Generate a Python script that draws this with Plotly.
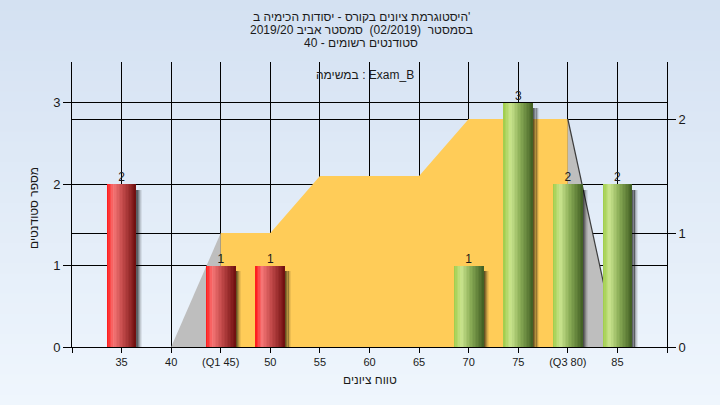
import plotly.graph_objects as go

# ---------------- data ----------------
scores = [35, 40, 45, 50, 55, 60, 65, 70, 75, 80, 85]
counts = [2, 0, 1, 1, 0, 0, 0, 1, 3, 2, 2]
tick_vals = [30, 35, 40, 45, 50, 55, 60, 65, 70, 75, 80, 85, 90]
tick_text = ["", "35", "40", "(Q1 45)", "50", "55", "60", "65", "70", "75", "(Q3 80)", "85", ""]
dist_x = [40, 45, 50, 55, 65, 70, 80, 85]
dist_y = [0, 1, 1, 1.5, 1.5, 2, 2, 0]
q1, q3 = 45, 80
pass_mark = 55

title_lines = ["היסטוגרמת ציונים בקורס - יסודות הכימיה ב'",
               "בסמסטר  (02/2019)  סמסטר אביב 2019/20",
               "סטודנטים רשומים - 40"]
legend_text = "במשימה : Exam_B"
x_title = "טווח ציונים"
y_title = "מספר סטודנטים"

# ---------------- layout constants ----------------
W, H = 720, 405
ML, MR, MT, MB = 72, 53, 62, 58
PW, PH = W - ML - MR, H - MT - MB
FONT = "Liberation Sans, DejaVu Sans, Arial, sans-serif"
TXT = "#1a1a1a"


def px_x(px):
    return (px - ML) / PW


def px_y(py):
    return 1 - (py - MT) / PH


def lerp_stops(stops, t):
    for (t0, c0), (t1, c1) in zip(stops[:-1], stops[1:]):
        if t0 <= t <= t1:
            f = (t - t0) / (t1 - t0) if t1 > t0 else 0
            return "rgb(%d,%d,%d)" % tuple(round(a + (b - a) * f) for a, b in zip(c0, c1))
    c = stops[-1][1]
    return "rgb(%d,%d,%d)" % c


red_stops = [(0, (255, 20, 20)), (0.22, (246, 118, 118)), (0.5, (200, 78, 78)), (1, (110, 14, 14))]
green_stops = [(0, (158, 204, 72)), (0.25, (202, 229, 142)), (0.55, (140, 174, 88)), (1, (64, 94, 34))]

bx = [s for s, c in zip(scores, counts) if c > 0]
by = [c for c in counts if c > 0]
is_pass = [s >= pass_mark for s in bx]

fig = go.Figure()

# ---------------- distribution area (main y axis, right side) ----------------
seg_lo = [(x, y) for x, y in zip(dist_x, dist_y) if x <= q1]
seg_mid = [(x, y) for x, y in zip(dist_x, dist_y) if q1 <= x <= q3]
seg_hi = [(x, y) for x, y in zip(dist_x, dist_y) if x >= q3]

fig.add_trace(go.Scatter(x=[p[0] for p in seg_lo], y=[p[1] for p in seg_lo], mode="lines",
                         fill="tozeroy", fillcolor="#bebebe", line=dict(width=0, color="#bebebe"),
                         yaxis="y", hoverinfo="skip", showlegend=False))
fig.add_trace(go.Scatter(x=[p[0] for p in seg_mid], y=[p[1] for p in seg_mid], mode="lines",
                         fill="tozeroy", fillcolor="#ffcc58", line=dict(width=0, color="#ffcc58"),
                         yaxis="y", hoverinfo="skip", showlegend=False))
fig.add_trace(go.Scatter(x=[p[0] for p in seg_hi], y=[p[1] for p in seg_hi], mode="lines",
                         fill="tozeroy", fillcolor="#bebebe", line=dict(width=1.2, color="#3c3c3c"),
                         yaxis="y", hoverinfo="skip", showlegend=False))

# ---------------- bars (overlay y axis, left side) ----------------
BAR_W = 3.0
N = 20
step = BAR_W / N
# shadows
shadow_drop = 0.07
sh_alpha = [0.6, 0.45, 0.3, 0.16, 0.07]
for i, a in enumerate(sh_alpha):
    fig.add_trace(go.Bar(x=bx, y=[v - shadow_drop for v in by], yaxis="y2",
                         offset=BAR_W / 2 + i * 0.11, width=0.12,
                         marker=dict(color="rgba(0,0,0,%.2f)" % a, line=dict(width=0)),
                         hoverinfo="skip", showlegend=False))
for i in range(N):
    off = -BAR_W / 2 + i * step
    t = (i + 0.5) / N
    cols = [lerp_stops(green_stops, t) if p else lerp_stops(red_stops, t) for p in is_pass]
    fig.add_trace(go.Bar(x=bx, y=by, yaxis="y2", offset=off,
                         width=min(step * 1.6, BAR_W / 2 - off),
                         marker=dict(color=cols, line=dict(width=0)),
                         hoverinfo="skip", showlegend=False))

fig.add_trace(go.Scatter(x=bx, y=by, yaxis="y2", mode="text", text=[str(v) for v in by],
                         textposition="top center", textfont=dict(size=12, color="#1a1a1a", family=FONT),
                         hoverinfo="skip", showlegend=False))

# ---------------- background gradient ----------------
shapes = []
NS = 40
top_c, bot_c = (212, 225, 242), (239, 246, 253)
for k in range(NS):
    f = k / (NS - 1)
    c = tuple(round(a + (b - a) * f) for a, b in zip(top_c, bot_c))
    y0 = px_y(k * H / NS)
    y1 = px_y((k + 1) * H / NS + 1)
    shapes.append(dict(type="rect", xref="paper", yref="paper", x0=px_x(0), x1=px_x(W),
                       y0=y1, y1=y0, fillcolor="rgb(%d,%d,%d)" % c, line=dict(width=0), layer="below"))

# ---------------- annotations ----------------
ann = []
for py, line in zip([17, 30, 43], title_lines):
    ann.append(dict(text=line, xref="paper", yref="paper", x=px_x(361), y=px_y(py),
                    xanchor="center", yanchor="middle", showarrow=False,
                    font=dict(size=12, color=TXT, family=FONT)))
ann.append(dict(text=legend_text, xref="paper", yref="paper", x=px_x(365), y=px_y(75),
                xanchor="center", yanchor="middle", showarrow=False,
                font=dict(size=12, color=TXT, family=FONT)))
ann.append(dict(text=x_title, xref="paper", yref="paper", x=px_x(370), y=px_y(380),
                xanchor="center", yanchor="middle", showarrow=False,
                font=dict(size=12, color=TXT, family=FONT)))
ann.append(dict(text=y_title, xref="paper", yref="paper", x=px_x(34), y=px_y(208),
                xanchor="center", yanchor="middle", showarrow=False, textangle=-90,
                font=dict(size=12, color=TXT, family=FONT)))

fig.update_layout(
    width=W, height=H,
    margin=dict(l=ML, r=MR, t=MT, b=MB, pad=0),
    paper_bgcolor="rgb(226,236,248)",
    plot_bgcolor="#b4b4b4",
    barmode="overlay", bargap=0,
    showlegend=False,
    hovermode=False,
    shapes=shapes,
    annotations=ann,
    font=dict(family=FONT, size=12, color=TXT),
    xaxis=dict(range=[30, 90], tickmode="array", tickvals=tick_vals, ticktext=tick_text,
               showgrid=True, gridcolor="black", gridwidth=1, zeroline=False,
               showline=True, linecolor="black", linewidth=1,
               ticks="outside", ticklen=5, tickcolor="black",
               tickfont=dict(size=11, color=TXT, family=FONT)),
    yaxis=dict(range=[0, 2.5], side="right", tickvals=[0, 1, 2],
               showgrid=True, gridcolor="black", gridwidth=1, zeroline=False,
               showline=True, linecolor="black", linewidth=1,
               ticks="outside", ticklen=8, tickcolor="black",
               tickfont=dict(size=13, color=TXT, family=FONT)),
    yaxis2=dict(range=[0, 3.5], side="left", overlaying="y", anchor="x", tickvals=[0, 1, 2, 3],
                showgrid=True, gridcolor="black", gridwidth=1, zeroline=False,
                showline=True, linecolor="black", linewidth=1,
                ticks="outside", ticklen=8, tickcolor="black",
                tickfont=dict(size=13, color=TXT, family=FONT)),
)

fig.write_html("out.html", config={"displayModeBar": False},
               post_script="document.body.style.margin='0';document.body.style.overflow='hidden';")
